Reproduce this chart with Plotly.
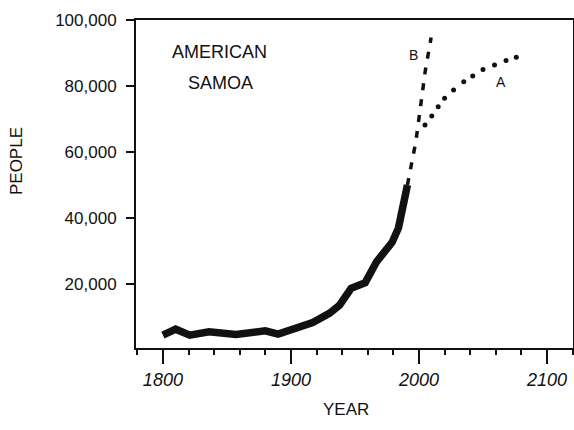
import plotly.graph_objects as go

# Historical population (solid thick line)
hist_years = [1800, 1810, 1821, 1836, 1857, 1880, 1890, 1902, 1917, 1930, 1938, 1947, 1958, 1967, 1979, 1984, 1988, 1991]
hist_people = [4500, 6300, 4500, 5500, 4700, 5800, 4800, 6600, 8300, 11100, 13600, 18700, 20400, 26800, 32600, 37000, 44500, 50000]

# Projection B (dashed)
b_years = [1991, 1994, 1997.5, 2000, 2002.5, 2005, 2009.5]
b_people = [50000, 56000, 63000, 70200, 77800, 84800, 94700]

# Projection A (dotted)
a_years = [2004.7, 2010, 2015, 2020, 2027, 2035, 2042, 2050, 2059, 2068, 2076]
a_people = [68200, 70900, 73700, 76300, 78800, 81300, 83000, 85000, 86400, 87700, 88700]

y_ticks = [20000, 40000, 60000, 80000, 100000]
y_labels = ["20,000", "40,000", "60,000", "80,000", "100,000"]
x_ticks = [1800, 1900, 2000, 2100]
x_labels = ["1800", "1900", "2000", "2100"]

FONT = "Liberation Sans, Arial, sans-serif"
INK = "#111111"

fig = go.Figure()
fig.add_trace(go.Scatter(x=hist_years, y=hist_people, mode="lines",
                         line=dict(color=INK, width=7.5), showlegend=False))
fig.add_trace(go.Scatter(x=b_years, y=b_people, mode="lines",
                         line=dict(color=INK, width=3.5, dash="7px,9px"), showlegend=False))
fig.add_trace(go.Scatter(x=a_years, y=a_people, mode="markers",
                         marker=dict(color=INK, size=5), showlegend=False))

annos = [
    dict(x=1844, y=90300, text="AMERICAN", size=18),
    dict(x=1845, y=80900, text="SAMOA", size=18),
    dict(x=1995.7, y=89400, text="B", size=14),
    dict(x=2063.7, y=81200, text="A", size=14),
]
for a in annos:
    fig.add_annotation(x=a["x"], y=a["y"], text=a["text"], showarrow=False,
                       xref="x", yref="y", xanchor="center", yanchor="middle",
                       font=dict(family=FONT, color=INK, size=a["size"]))

fig.add_annotation(x=-0.2746, y=0.57, xref="paper", yref="paper", text="PEOPLE",
                   textangle=-90, showarrow=False, xanchor="center", yanchor="middle",
                   font=dict(family=FONT, size=17, color=INK))
fig.add_annotation(x=0.4805, y=-0.189, xref="paper", yref="paper", text="YEAR",
                   showarrow=False, xanchor="center", yanchor="middle",
                   font=dict(family=FONT, size=17, color=INK))

fig.update_layout(
    width=574, height=430,
    margin=dict(l=136, r=1, t=20, b=82, autoexpand=False),
    paper_bgcolor="white", plot_bgcolor="white",
    font=dict(family=FONT, color=INK),
)
fig.update_xaxes(range=[1779, 2120.3], showgrid=False, zeroline=False, automargin=False,
                 showline=True, linecolor=INK, linewidth=2, mirror=True,
                 tickmode="array", tickvals=x_ticks, ticktext=x_labels,
                 ticks="outside", ticklen=14, tickwidth=1.5, tickcolor=INK,
                 tickfont=dict(family=FONT, size=18, color=INK, style="italic"),
                 minor=dict(dtick=20, tick0=1800, ticks="outside", ticklen=5,
                            tickwidth=1.5, tickcolor=INK, showgrid=False))
fig.update_yaxes(range=[600, 100000], showgrid=False, zeroline=False, automargin=False,
                 showline=True, linecolor=INK, linewidth=2, mirror=True,
                 tickmode="array", tickvals=y_ticks, ticktext=y_labels,
                 ticks="outside", ticklen=8, tickwidth=1.5, tickcolor=INK,
                 ticklabelstandoff=6,
                 tickfont=dict(family=FONT, size=17, color=INK))

fig.write_html("out.html", config={"displayModeBar": False},
               post_script="document.body.style.margin='0';document.body.style.overflow='hidden';")
